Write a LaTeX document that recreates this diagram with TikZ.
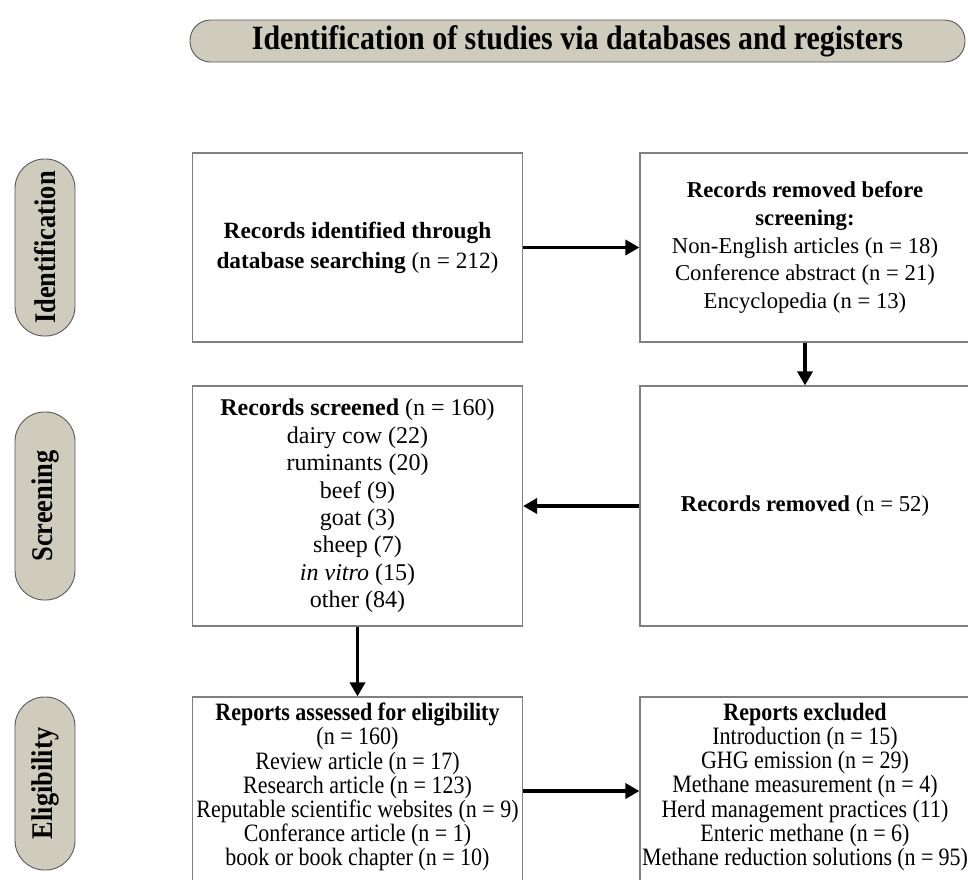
\documentclass[tikz,border=0pt]{standalone}
\usepackage{fontspec}
\setmainfont{Liberation Serif}
\newfontfamily\narrowserif[FakeStretch=0.88]{Liberation Serif}
\usetikzlibrary{arrows.meta,positioning}
\definecolor{pillgray}{RGB}{207,204,189}
\definecolor{boxgray}{RGB}{128,128,128}
\newcommand{\pw}{968}
\newcommand{\ph}{879}
\newcommand{\fitpicturetopage}{%
  \coordinate (A) at (0,0);
  \coordinate (C) at (\pw,\ph);
  \useasboundingbox (A) rectangle (C);
}
% lines pushed to the top of a box whose foot runs off the page
\newcommand{\toplines}[1]{%
  \parbox[c][188pt][t]{326pt}{\centering\vspace*{6pt}#1}}
\tikzset{
  pill/.style={draw=black!65, fill=pillgray, line width=0.9pt,
    inner sep=0pt, font=\narrowserif\bfseries},
  stagepill/.style={pill, rotate=90, minimum height=60pt,
    rounded corners=29.5pt, font=\fontsize{30}{32}\narrowserif\bfseries},
  recbox/.style={draw=boxgray, line width=1.2pt, minimum width=330pt,
    align=center, inner sep=0pt},
  flow/.style={line width=3.5pt, -{Triangle[length=14pt,width=15pt]}},
}

\begin{document}
\begin{tikzpicture}[x=1pt, y=-1pt]
    \fitpicturetopage
    %
    \node[pill, minimum width=775pt, minimum height=42pt,
          rounded corners=20.5pt,
          font=\fontsize{34}{38}\narrowserif\bfseries] (head) at (577.5,41)
        {Identification of studies via databases and registers};

    \node[stagepill, minimum width=177pt] (ident) at (45,247.5) {Identification};
    \node[stagepill, minimum width=188pt] (screen) at (45,506) {Screening};
    \node[stagepill, minimum width=173pt] (elig) at (45,783.5) {Eligibility};

    % identification row
    \node[recbox, minimum height=189pt,
          font=\fontsize{23.3}{30}\selectfont] (found) at (357.5,247.5)
        {\textbf{Records identified through}\\
         \textbf{database searching} (n = 212)};
    \node[recbox, minimum height=189pt,
          font=\fontsize{22.7}{27.7}\selectfont] (before) at (805,247.5)
        {\textbf{Records removed before}\\
         \textbf{screening:}\\
         Non-English articles (n = 18)\\
         Conference abstract (n = 21)\\
         Encyclopedia (n = 13)};

    % screening row
    \node[recbox, minimum height=240pt,
          font=\fontsize{24}{27.4}\selectfont] (screened) at (357.5,506)
        {\textbf{Records screened} (n = 160)\\
         dairy cow (22)\\
         ruminants (20)\\
         beef (9)\\
         goat (3)\\
         sheep (7)\\
         \textit{in vitro} (15)\\
         other (84)};
    \node[recbox, minimum height=240pt,
          font=\fontsize{22.7}{27.7}\selectfont] (removed) at (805,506)
        {\textbf{Records removed} (n = 52)};

    % eligibility row
    \node[recbox, minimum height=188pt,
          font=\fontsize{25}{24.2}\narrowserif] (assessed) at (357.5,791)
        {\toplines{\textbf{Reports assessed for eligibility}\\
         (n = 160)\\
         Review article (n = 17)\\
         Research article (n = 123)\\
         Reputable scientific websites (n = 9)\\
         Conferance article (n = 1)\\
         book or book chapter (n = 10)}};
    \node[recbox, minimum height=188pt,
          font=\fontsize{25}{24.2}\narrowserif] (excluded) at (805,791)
        {\toplines{\textbf{Reports excluded}\\
         Introduction (n = 15)\\
         GHG emission (n = 29)\\
         Methane measurement (n = 4)\\
         Herd management practices (11)\\
         Enteric methane (n = 6)\\
         Methane reduction solutions (n = 95)}};

    \draw[flow] (found) -- (before);
    \draw[flow] (before) -- (removed);
    \draw[flow] (removed) -- (screened);
    \draw[flow] (screened) -- (assessed);
    \draw[flow] (assessed) -- (excluded);
\end{tikzpicture}
\end{document}
